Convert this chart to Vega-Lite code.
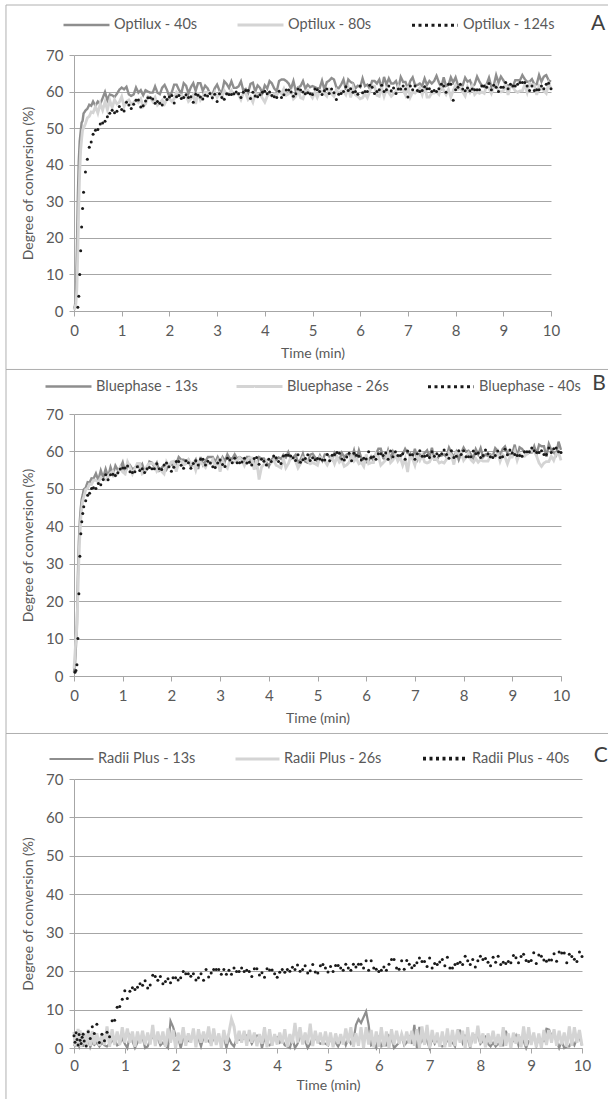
{
"$schema": "https://vega.github.io/schema/vega-lite/v6.json",
"background": "white",
"padding": {"left": 5, "top": 0, "right": 0, "bottom": 0},
"bounds": "flush",
"spacing": 103,
"resolve": {"scale": {"color": "independent", "strokeDash": "independent", "strokeWidth": "independent"}},
"config": {
  "view": {"stroke": null},
  "font": "Lato",
  "axis": {"labelFont": "Lato", "titleFont": "Lato", "labelColor": "#595959", "titleColor": "#595959", "labelFontSize": 15, "titleFontSize": 14, "titleFontWeight": 400, "domainColor": "#a6a6a6", "tickColor": "#a6a6a6", "gridColor": "#a6a6a6", "tickSize": 5},
  "legend": {"labelFont": "Lato", "labelColor": "#595959", "labelFontSize": 14.5}
},
"datasets": {
  "nA": [{"k": "a", "series": "Optilux - 40s"}, {"k": "b", "series": "Optilux - 80s"}],
  "nB": [{"k": "a", "series": "Bluephase - 13s"}, {"k": "b", "series": "Bluephase - 26s"}],
  "nC": [{"k": "a", "series": "Radii Plus - 13s"}, {"k": "b", "series": "Radii Plus - 26s"}],
  "A": [
{"t":0,"a":0.5,"b":0.3},{"t":0.02,"a":1.5,"b":0.8},{"t":0.04,"a":4,"b":2},{"t":0.06,"a":16,"b":6},{"t":0.08,"a":31,"b":16,"c":1},{"t":0.1,"a":41,"b":29,"c":4},{"t":0.12,"a":46.5,"b":38,"c":10},{"t":0.14,"a":49,"b":44,"c":16.5},{"t":0.16,"a":51.5,"b":47,"c":23},{"t":0.18,"a":52,"b":49.5,"c":28},{"t":0.2,"a":54,"b":50,"c":32.5},{"t":0.24,"a":54.8,"b":51.2,"c":38},{"t":0.28,"a":55.3,"b":52.8,"c":41.5},{"t":0.32,"a":56.4,"b":53.2,"c":44.8},{"t":0.36,"a":56.1,"b":54.4,"c":46.2},{"t":0.4,"a":57.3,"b":54.2,"c":48.3},
{"t":0.45,"a":56.1,"b":55.9,"c":49.4},{"t":0.5,"a":57.3,"b":54.1,"c":49.6},{"t":0.55,"a":56.6,"b":56.7,"c":51.1},{"t":0.6,"a":58.2,"b":54.9,"c":51.4},{"t":0.65,"a":59.9,"b":57.2,"c":51.9},{"t":0.7,"a":57.6,"b":55.0,"c":53.1},{"t":0.75,"a":59.2,"b":57.6,"c":54.1},{"t":0.8,"a":59.0,"b":55.6,"c":54.9},{"t":0.85,"a":58.5,"b":57.8,"c":54.2},{"t":0.9,"a":59.4,"b":56.6,"c":54.6},{"t":0.95,"a":60.5,"b":57.1,"c":55.9},{"t":1.0,"a":61.1,"b":58.6,"c":55.1},
{"t":1.05,"a":60.6,"b":55.9,"c":54.7},{"t":1.1,"a":61.3,"b":57.3,"c":57.1},{"t":1.15,"a":59.2,"b":57.7,"c":56.3},{"t":1.2,"a":58.8,"b":56.6,"c":55.4},{"t":1.25,"a":59.2,"b":57.0,"c":56.5},{"t":1.3,"a":61.1,"b":57.7,"c":57.6},{"t":1.35,"a":59.7,"b":57.0,"c":57.7},{"t":1.4,"a":60.4,"b":58.0,"c":55.8},{"t":1.45,"a":59.0,"b":55.9,"c":56.1},{"t":1.5,"a":60.4,"b":56.6,"c":57.4},
{"t":1.55,"a":60.0,"b":58.7,"c":58.3},{"t":1.6,"a":59.7,"b":58.4,"c":58.3},{"t":1.65,"a":59.7,"b":57.3,"c":58.0},{"t":1.7,"a":61.4,"b":58.4,"c":56.8},{"t":1.75,"a":59.7,"b":56.3,"c":57.3},{"t":1.8,"a":59.3,"b":57.0,"c":56.8},{"t":1.85,"a":61.1,"b":57.7,"c":56.3},{"t":1.9,"a":61.8,"b":56.6,"c":58.5},{"t":1.95,"a":60.4,"b":58.0,"c":57.8},{"t":2.0,"a":58.6,"b":58.0,"c":58.5},
{"t":2.05,"a":59.8,"b":57.3,"c":58.9},{"t":2.1,"a":61.9,"b":58.0,"c":56.9},{"t":2.15,"a":61.9,"b":59.8,"c":58.6},{"t":2.2,"a":60.5,"b":59.1,"c":58.9},{"t":2.25,"a":59.5,"b":59.1,"c":58.1},{"t":2.3,"a":62.3,"b":58.4,"c":58.4},{"t":2.35,"a":61.6,"b":59.1,"c":59.1},{"t":2.4,"a":59.5,"b":57.3,"c":58.4},{"t":2.45,"a":61.2,"b":58.0,"c":58.6},{"t":2.5,"a":62.3,"b":59.1,"c":57.1},
{"t":2.55,"a":60.2,"b":56.6,"c":59.3},{"t":2.6,"a":62.3,"b":59.8,"c":59.0},{"t":2.65,"a":62.3,"b":57.7,"c":58.5},{"t":2.7,"a":60.2,"b":58.7,"c":58.0},{"t":2.75,"a":61.6,"b":59.8,"c":59.0},{"t":2.8,"a":60.9,"b":59.8,"c":58.8},{"t":2.85,"a":59.5,"b":59.8,"c":59.5},{"t":2.9,"a":59.1,"b":58.4,"c":58.3},{"t":2.95,"a":60.9,"b":59.8,"c":59.3},{"t":3.0,"a":61.9,"b":58.4,"c":57.3},
{"t":3.05,"a":60.3,"b":59.6,"c":59.4},{"t":3.1,"a":59.6,"b":58.5,"c":58.4},{"t":3.15,"a":62.8,"b":60.3,"c":57.9},{"t":3.2,"a":62.1,"b":59.2,"c":59.4},{"t":3.25,"a":61.0,"b":59.2,"c":59.2},{"t":3.3,"a":62.8,"b":60.3,"c":59.2},{"t":3.35,"a":61.0,"b":59.2,"c":59.4},{"t":3.4,"a":61.0,"b":59.6,"c":59.9},{"t":3.45,"a":61.4,"b":59.2,"c":59.4},{"t":3.5,"a":62.8,"b":57.8,"c":58.4},
{"t":3.55,"a":60.3,"b":59.6,"c":59.8},{"t":3.6,"a":60.7,"b":59.6,"c":60.3},{"t":3.65,"a":59.6,"b":57.8,"c":60.3},{"t":3.7,"a":62.1,"b":58.5,"c":58.1},{"t":3.75,"a":62.4,"b":57.1,"c":59.8},{"t":3.8,"a":60.0,"b":59.6,"c":58.8},{"t":3.85,"a":61.7,"b":59.2,"c":58.6},{"t":3.9,"a":61.0,"b":59.2,"c":59.1},{"t":3.95,"a":59.6,"b":58.2,"c":59.8},{"t":4.0,"a":61.7,"b":57.1,"c":60.1},
{"t":4.05,"a":60.8,"b":58.7,"c":59.4},{"t":4.1,"a":62.9,"b":59.4,"c":59.9},{"t":4.15,"a":62.2,"b":58.7,"c":58.9},{"t":4.2,"a":60.8,"b":59.4,"c":58.6},{"t":4.25,"a":60.1,"b":59.0,"c":58.4},{"t":4.3,"a":62.9,"b":60.1,"c":60.1},{"t":4.35,"a":63.3,"b":59.4,"c":58.4},{"t":4.4,"a":63.3,"b":60.8,"c":59.1},{"t":4.45,"a":62.9,"b":59.0,"c":60.4},{"t":4.5,"a":62.2,"b":59.4,"c":60.4},
{"t":4.55,"a":60.8,"b":60.1,"c":59.9},{"t":4.6,"a":62.9,"b":58.0,"c":58.7},{"t":4.65,"a":60.1,"b":58.7,"c":59.4},{"t":4.7,"a":61.2,"b":60.4,"c":60.7},{"t":4.75,"a":61.5,"b":58.3,"c":60.4},{"t":4.8,"a":62.9,"b":58.0,"c":59.9},{"t":4.85,"a":60.8,"b":60.1,"c":59.4},{"t":4.9,"a":61.9,"b":60.4,"c":59.7},{"t":4.95,"a":61.2,"b":59.4,"c":59.4},{"t":5.0,"a":61.5,"b":58.3,"c":59.2},
{"t":5.05,"a":61.2,"b":59.8,"c":60.7},{"t":5.1,"a":60.9,"b":58.4,"c":60.5},{"t":5.15,"a":60.9,"b":60.1,"c":60.0},{"t":5.2,"a":63.0,"b":60.1,"c":59.2},{"t":5.25,"a":60.5,"b":59.4,"c":60.2},{"t":5.3,"a":62.6,"b":58.7,"c":60.7},{"t":5.35,"a":63.0,"b":60.5,"c":59.5},{"t":5.4,"a":63.7,"b":59.4,"c":60.7},{"t":5.45,"a":63.3,"b":58.7,"c":59.7},{"t":5.5,"a":61.2,"b":60.5,"c":57.8},
{"t":5.55,"a":60.9,"b":59.4,"c":59.3},{"t":5.6,"a":61.9,"b":60.1,"c":59.5},{"t":5.65,"a":63.3,"b":60.1,"c":60.0},{"t":5.7,"a":60.5,"b":59.1,"c":61.3},{"t":5.75,"a":63.3,"b":61.2,"c":60.3},{"t":5.8,"a":62.6,"b":58.4,"c":60.8},{"t":5.85,"a":62.3,"b":61.2,"c":59.8},{"t":5.9,"a":60.9,"b":59.1,"c":60.0},{"t":5.95,"a":61.6,"b":58.7,"c":59.3},{"t":6.0,"a":61.2,"b":58.0,"c":61.5},
{"t":6.05,"a":63.6,"b":58.3,"c":59.7},{"t":6.1,"a":61.5,"b":59.4,"c":60.0},{"t":6.15,"a":61.9,"b":58.3,"c":60.0},{"t":6.2,"a":60.8,"b":60.1,"c":61.7},{"t":6.25,"a":62.9,"b":61.5,"c":61.2},{"t":6.3,"a":62.9,"b":61.5,"c":59.5},{"t":6.35,"a":62.2,"b":59.0,"c":60.0},{"t":6.4,"a":63.3,"b":58.7,"c":60.5},{"t":6.45,"a":60.8,"b":61.1,"c":61.7},{"t":6.5,"a":64.0,"b":58.7,"c":60.0},
{"t":6.55,"a":61.9,"b":60.8,"c":60.5},{"t":6.6,"a":63.6,"b":59.7,"c":61.5},{"t":6.65,"a":62.2,"b":58.7,"c":60.2},{"t":6.7,"a":62.2,"b":59.4,"c":61.0},{"t":6.75,"a":62.9,"b":60.1,"c":59.5},{"t":6.8,"a":60.8,"b":61.5,"c":60.7},{"t":6.85,"a":64.0,"b":60.4,"c":60.7},{"t":6.9,"a":62.6,"b":60.4,"c":61.5},{"t":6.95,"a":62.6,"b":59.0,"c":60.7},{"t":7.0,"a":60.8,"b":61.5,"c":58.5},
{"t":7.05,"a":62.9,"b":58.5,"c":61.5},{"t":7.1,"a":63.9,"b":59.9,"c":60.5},{"t":7.15,"a":61.8,"b":59.6,"c":61.5},{"t":7.2,"a":61.8,"b":60.3,"c":60.3},{"t":7.25,"a":62.2,"b":61.0,"c":60.0},{"t":7.3,"a":61.5,"b":59.2,"c":60.3},{"t":7.35,"a":63.6,"b":61.7,"c":61.3},{"t":7.4,"a":61.8,"b":58.5,"c":60.8},{"t":7.45,"a":62.9,"b":58.5,"c":60.8},{"t":7.5,"a":62.2,"b":59.6,"c":60.0},
{"t":7.55,"a":62.9,"b":59.6,"c":60.3},{"t":7.6,"a":64.3,"b":59.9,"c":60.0},{"t":7.65,"a":62.5,"b":59.2,"c":60.8},{"t":7.7,"a":61.1,"b":61.7,"c":62.0},{"t":7.75,"a":63.9,"b":60.3,"c":61.5},{"t":7.8,"a":61.5,"b":59.2,"c":59.8},{"t":7.85,"a":61.8,"b":60.6,"c":62.0},{"t":7.9,"a":63.9,"b":58.5,"c":62.0},{"t":7.95,"a":62.5,"b":60.3,"c":57.6},{"t":8.0,"a":63.9,"b":61.7,"c":60.5},
{"t":8.05,"a":61.7,"b":60.6,"c":61.2},{"t":8.1,"a":61.7,"b":60.9,"c":62.0},{"t":8.15,"a":61.7,"b":59.9,"c":60.7},{"t":8.2,"a":63.8,"b":58.8,"c":60.2},{"t":8.25,"a":62.7,"b":61.3,"c":61.0},{"t":8.3,"a":63.1,"b":59.9,"c":60.2},{"t":8.35,"a":61.3,"b":61.6,"c":60.7},{"t":8.4,"a":62.0,"b":59.2,"c":60.5},{"t":8.45,"a":64.1,"b":59.9,"c":60.5},{"t":8.5,"a":62.7,"b":59.5,"c":60.5},
{"t":8.55,"a":61.7,"b":59.9,"c":61.5},{"t":8.6,"a":61.3,"b":59.5,"c":61.5},{"t":8.65,"a":62.0,"b":61.6,"c":61.2},{"t":8.7,"a":63.8,"b":60.9,"c":62.2},{"t":8.75,"a":61.3,"b":59.5,"c":60.5},{"t":8.8,"a":61.7,"b":61.3,"c":61.7},{"t":8.85,"a":64.5,"b":62.0,"c":61.2},{"t":8.9,"a":62.4,"b":60.2,"c":60.0},{"t":8.95,"a":64.1,"b":59.9,"c":61.2},{"t":9.0,"a":63.1,"b":60.2,"c":61.2},
{"t":9.05,"a":62.0,"b":62.3,"c":62.5},{"t":9.1,"a":61.7,"b":59.1,"c":60.8},{"t":9.15,"a":61.7,"b":61.6,"c":62.0},{"t":9.2,"a":61.3,"b":61.2,"c":61.5},{"t":9.25,"a":63.1,"b":60.2,"c":61.5},{"t":9.3,"a":63.1,"b":59.8,"c":62.0},{"t":9.35,"a":63.1,"b":60.2,"c":62.5},{"t":9.4,"a":64.5,"b":60.2,"c":62.5},{"t":9.45,"a":63.4,"b":61.9,"c":62.5},{"t":9.5,"a":62.7,"b":59.8,"c":61.5},
{"t":9.55,"a":62.7,"b":62.3,"c":60.3},{"t":9.6,"a":63.4,"b":61.9,"c":61.5},{"t":9.65,"a":62.0,"b":61.9,"c":60.3},{"t":9.7,"a":62.0,"b":59.1,"c":60.5},{"t":9.75,"a":64.5,"b":61.6,"c":60.5},{"t":9.8,"a":62.7,"b":60.9,"c":61.5},{"t":9.85,"a":64.1,"b":60.2,"c":60.8},{"t":9.9,"a":64.5,"b":59.5,"c":62.0},{"t":9.95,"a":63.1,"b":62.3,"c":62.3},{"t":10.0,"a":62.7,"b":60.9,"c":60.8}
  ],
  "B": [
{"t":0,"a":1,"b":2},{"t":0.02,"a":3,"b":6,"c":1},{"t":0.04,"a":8,"b":10,"c":1.5},{"t":0.06,"a":14,"b":13,"c":3},{"t":0.08,"a":27,"b":22,"c":10},{"t":0.1,"a":36,"b":31,"c":22},{"t":0.12,"a":41.5,"b":37.5,"c":32},{"t":0.14,"a":45,"b":42,"c":38},{"t":0.16,"a":47.3,"b":45,"c":41.2},{"t":0.18,"a":48.4,"b":47,"c":43.4},{"t":0.2,"a":49.8,"b":47.8,"c":45.2},{"t":0.24,"a":50.3,"b":49.8,"c":46.8},{"t":0.28,"a":51.8,"b":50.2,"c":48.3},{"t":0.32,"a":51.7,"b":51.3,"c":48.8},{"t":0.36,"a":52.8,"b":51.2,"c":50.1},{"t":0.4,"a":52.7,"b":52.3,"c":50.3},
{"t":0.45,"a":54.1,"b":52.3,"c":50.1},{"t":0.5,"a":52.3,"b":51.8,"c":51.4},{"t":0.55,"a":54.9,"b":53.0,"c":51.1},{"t":0.6,"a":53.0,"b":52.5,"c":52.5},{"t":0.65,"a":55.3,"b":52.4,"c":53.8},{"t":0.7,"a":53.2,"b":53.3,"c":52.4},{"t":0.75,"a":55.8,"b":54.2,"c":53.8},{"t":0.8,"a":53.9,"b":54.7,"c":53.9},{"t":0.85,"a":56.2,"b":53.5,"c":53.6},{"t":0.9,"a":55.0,"b":54.1,"c":54.3},{"t":0.95,"a":55.6,"b":55.7,"c":55.3},{"t":1.0,"a":57.1,"b":54.5,"c":55.6},
{"t":1.05,"a":54.5,"b":54.0,"c":55.6},{"t":1.1,"a":55.9,"b":57.2,"c":56.1},{"t":1.15,"a":56.3,"b":55.8,"c":54.6},{"t":1.2,"a":55.2,"b":54.0,"c":54.4},{"t":1.25,"a":55.6,"b":55.4,"c":54.6},{"t":1.3,"a":56.3,"b":56.8,"c":55.9},{"t":1.35,"a":55.6,"b":56.8,"c":54.9},{"t":1.4,"a":56.6,"b":54.0,"c":55.4},{"t":1.45,"a":54.5,"b":54.4,"c":54.4},{"t":1.5,"a":55.2,"b":56.1,"c":55.4},
{"t":1.55,"a":57.3,"b":56.8,"c":55.7},{"t":1.6,"a":57.0,"b":56.8,"c":55.4},{"t":1.65,"a":55.9,"b":56.5,"c":55.4},{"t":1.7,"a":57.0,"b":54.7,"c":56.7},{"t":1.75,"a":54.9,"b":55.4,"c":55.4},{"t":1.8,"a":55.6,"b":54.7,"c":55.2},{"t":1.85,"a":56.3,"b":54.0,"c":56.4},{"t":1.9,"a":55.2,"b":57.2,"c":56.9},{"t":1.95,"a":56.6,"b":56.1,"c":55.9},{"t":2.0,"a":56.6,"b":57.2,"c":54.7},
{"t":2.05,"a":56.0,"b":57.4,"c":55.8},{"t":2.1,"a":56.7,"b":54.6,"c":57.3},{"t":2.15,"a":58.5,"b":57.1,"c":57.3},{"t":2.2,"a":57.8,"b":57.4,"c":56.3},{"t":2.25,"a":57.8,"b":56.4,"c":55.5},{"t":2.3,"a":57.1,"b":56.7,"c":57.5},{"t":2.35,"a":57.8,"b":57.8,"c":57.0},{"t":2.4,"a":56.0,"b":56.7,"c":55.5},{"t":2.45,"a":56.7,"b":57.1,"c":56.8},{"t":2.5,"a":57.8,"b":55.0,"c":57.5},
{"t":2.55,"a":55.3,"b":57.4,"c":56.4},{"t":2.6,"a":58.5,"b":57.1,"c":57.9},{"t":2.65,"a":56.4,"b":56.4,"c":57.9},{"t":2.7,"a":57.4,"b":55.7,"c":56.4},{"t":2.75,"a":58.5,"b":57.1,"c":57.4},{"t":2.8,"a":58.5,"b":56.7,"c":56.9},{"t":2.85,"a":58.5,"b":57.8,"c":55.9},{"t":2.9,"a":57.1,"b":56.0,"c":55.7},{"t":2.95,"a":58.5,"b":57.4,"c":56.9},{"t":3.0,"a":57.1,"b":54.6,"c":57.7},
{"t":3.05,"a":58.5,"b":57.6,"c":56.5},{"t":3.1,"a":57.4,"b":56.2,"c":56.0},{"t":3.15,"a":59.2,"b":55.5,"c":58.2},{"t":3.2,"a":58.1,"b":57.6,"c":57.7},{"t":3.25,"a":58.1,"b":57.2,"c":57.0},{"t":3.3,"a":59.2,"b":57.2,"c":58.2},{"t":3.35,"a":58.1,"b":57.6,"c":57.0},{"t":3.4,"a":58.5,"b":58.3,"c":57.0},{"t":3.45,"a":58.1,"b":57.6,"c":57.2},{"t":3.5,"a":56.7,"b":56.2,"c":58.2},
{"t":3.55,"a":58.5,"b":57.6,"c":56.9},{"t":3.6,"a":58.5,"b":58.3,"c":57.1},{"t":3.65,"a":56.7,"b":58.3,"c":56.4},{"t":3.7,"a":57.4,"b":55.1,"c":58.1},{"t":3.75,"a":56.0,"b":57.6,"c":58.4},{"t":3.8,"a":58.5,"b":52.5,"c":56.6},{"t":3.85,"a":58.1,"b":55.8,"c":57.9},{"t":3.9,"a":58.1,"b":56.5,"c":57.4},{"t":3.95,"a":57.1,"b":57.6,"c":56.4},{"t":4.0,"a":56.0,"b":57.9,"c":57.9},
{"t":4.05,"a":57.7,"b":57.0,"c":57.3},{"t":4.1,"a":58.4,"b":57.7,"c":58.8},{"t":4.15,"a":57.7,"b":56.3,"c":58.3},{"t":4.2,"a":58.4,"b":56.0,"c":57.3},{"t":4.25,"a":58.0,"b":55.6,"c":56.8},{"t":4.3,"a":59.1,"b":58.1,"c":58.8},{"t":4.35,"a":58.4,"b":55.6,"c":59.0},{"t":4.4,"a":59.8,"b":56.7,"c":59.0},{"t":4.45,"a":58.0,"b":58.4,"c":58.8},{"t":4.5,"a":58.4,"b":58.4,"c":58.3},
{"t":4.55,"a":59.1,"b":57.4,"c":57.6},{"t":4.6,"a":57.0,"b":55.6,"c":59.1},{"t":4.65,"a":57.7,"b":56.7,"c":57.1},{"t":4.7,"a":59.4,"b":58.4,"c":57.8},{"t":4.75,"a":57.3,"b":58.1,"c":58.1},{"t":4.8,"a":57.0,"b":57.4,"c":59.1},{"t":4.85,"a":59.1,"b":56.7,"c":57.6},{"t":4.9,"a":59.4,"b":57.0,"c":58.3},{"t":4.95,"a":58.4,"b":56.7,"c":57.8},{"t":5.0,"a":57.3,"b":56.3,"c":58.1},
{"t":5.05,"a":58.9,"b":58.5,"c":58.0},{"t":5.1,"a":57.5,"b":58.1,"c":57.7},{"t":5.15,"a":59.2,"b":57.4,"c":57.7},{"t":5.2,"a":59.2,"b":56.4,"c":59.2},{"t":5.25,"a":58.5,"b":57.8,"c":57.5},{"t":5.3,"a":57.8,"b":58.5,"c":59.0},{"t":5.35,"a":59.6,"b":56.7,"c":59.2},{"t":5.4,"a":58.5,"b":58.5,"c":59.7},{"t":5.45,"a":57.8,"b":57.1,"c":59.5},{"t":5.5,"a":59.6,"b":57.8,"c":58.0},
{"t":5.55,"a":58.5,"b":56.0,"c":57.7},{"t":5.6,"a":59.2,"b":56.4,"c":58.5},{"t":5.65,"a":59.2,"b":57.1,"c":59.5},{"t":5.7,"a":58.2,"b":58.8,"c":57.5},{"t":5.75,"a":60.3,"b":57.4,"c":59.5},{"t":5.8,"a":57.5,"b":58.1,"c":59.0},{"t":5.85,"a":60.3,"b":56.7,"c":58.7},{"t":5.9,"a":58.2,"b":57.1,"c":57.7},{"t":5.95,"a":57.8,"b":56.0,"c":58.2},{"t":6.0,"a":57.1,"b":59.2,"c":58.0},
{"t":6.05,"a":57.5,"b":56.7,"c":59.9},{"t":6.1,"a":58.6,"b":57.0,"c":58.4},{"t":6.15,"a":57.5,"b":57.0,"c":58.6},{"t":6.2,"a":59.3,"b":59.5,"c":57.9},{"t":6.25,"a":60.7,"b":58.8,"c":59.4},{"t":6.3,"a":60.7,"b":56.3,"c":59.4},{"t":6.35,"a":58.2,"b":57.0,"c":58.9},{"t":6.4,"a":57.9,"b":57.7,"c":59.6},{"t":6.45,"a":60.3,"b":59.5,"c":57.9},{"t":6.5,"a":57.9,"b":57.0,"c":60.1},
{"t":6.55,"a":60.0,"b":57.7,"c":58.6},{"t":6.6,"a":58.9,"b":59.1,"c":59.9},{"t":6.65,"a":57.9,"b":57.4,"c":58.9},{"t":6.7,"a":58.6,"b":58.4,"c":58.9},{"t":6.75,"a":59.3,"b":56.3,"c":59.4},{"t":6.8,"a":60.7,"b":58.1,"c":57.9},{"t":6.85,"a":59.6,"b":54.5,"c":60.1},{"t":6.9,"a":59.6,"b":59.1,"c":59.1},{"t":6.95,"a":58.2,"b":58.1,"c":59.1},{"t":7.0,"a":60.7,"b":56.3,"c":57.9},
{"t":7.05,"a":57.8,"b":59.0,"c":59.4},{"t":7.1,"a":59.2,"b":57.6,"c":60.2},{"t":7.15,"a":58.9,"b":59.0,"c":58.7},{"t":7.2,"a":59.6,"b":57.2,"c":58.7},{"t":7.25,"a":60.3,"b":56.9,"c":58.9},{"t":7.3,"a":58.5,"b":57.2,"c":58.4},{"t":7.35,"a":61.0,"b":58.6,"c":59.9},{"t":7.4,"a":57.8,"b":57.9,"c":58.7},{"t":7.45,"a":57.8,"b":57.9,"c":59.4},{"t":7.5,"a":58.9,"b":56.9,"c":58.9},
{"t":7.55,"a":58.9,"b":57.2,"c":59.4},{"t":7.6,"a":59.2,"b":56.9,"c":60.4},{"t":7.65,"a":58.5,"b":57.9,"c":59.2},{"t":7.7,"a":61.0,"b":59.7,"c":58.2},{"t":7.75,"a":59.6,"b":59.0,"c":60.2},{"t":7.8,"a":58.5,"b":56.5,"c":58.4},{"t":7.85,"a":59.9,"b":59.7,"c":58.7},{"t":7.9,"a":57.8,"b":59.7,"c":60.2},{"t":7.95,"a":59.6,"b":59.7,"c":59.2},{"t":8.0,"a":61.0,"b":57.6,"c":60.2},
{"t":8.05,"a":59.9,"b":58.5,"c":58.6},{"t":8.1,"a":60.2,"b":59.5,"c":58.6},{"t":8.15,"a":59.2,"b":57.8,"c":58.6},{"t":8.2,"a":58.1,"b":57.1,"c":60.1},{"t":8.25,"a":60.6,"b":58.1,"c":59.4},{"t":8.3,"a":59.2,"b":57.1,"c":59.6},{"t":8.35,"a":60.9,"b":57.8,"c":58.4},{"t":8.4,"a":58.5,"b":57.4,"c":58.9},{"t":8.45,"a":59.2,"b":57.4,"c":60.4},{"t":8.5,"a":58.8,"b":57.4,"c":59.4},
{"t":8.55,"a":59.2,"b":58.8,"c":58.6},{"t":8.6,"a":58.8,"b":58.8,"c":58.4},{"t":8.65,"a":60.9,"b":58.5,"c":58.9},{"t":8.7,"a":60.2,"b":59.9,"c":60.1},{"t":8.75,"a":58.8,"b":57.4,"c":58.4},{"t":8.8,"a":60.6,"b":59.2,"c":58.6},{"t":8.85,"a":61.3,"b":58.5,"c":60.6},{"t":8.9,"a":59.5,"b":56.7,"c":59.1},{"t":8.95,"a":59.2,"b":58.5,"c":60.4},{"t":9.0,"a":59.5,"b":58.5,"c":59.6},
{"t":9.05,"a":61.8,"b":60.1,"c":59.2},{"t":9.1,"a":58.6,"b":57.6,"c":58.9},{"t":9.15,"a":61.1,"b":59.4,"c":58.9},{"t":9.2,"a":60.7,"b":58.7,"c":58.7},{"t":9.25,"a":59.7,"b":58.7,"c":59.9},{"t":9.3,"a":59.3,"b":59.4,"c":59.9},{"t":9.35,"a":59.7,"b":60.1,"c":59.9},{"t":9.4,"a":59.7,"b":60.1,"c":60.9},{"t":9.45,"a":61.4,"b":60.1,"c":60.2},{"t":9.5,"a":59.3,"b":58.7,"c":59.7},
{"t":9.55,"a":61.8,"b":56.9,"c":59.7},{"t":9.6,"a":61.4,"b":56.0,"c":60.2},{"t":9.65,"a":61.4,"b":56.9,"c":59.2},{"t":9.7,"a":58.6,"b":57.3,"c":59.2},{"t":9.75,"a":62.0,"b":57.3,"c":60.9},{"t":9.8,"a":60.4,"b":58.7,"c":59.7},{"t":9.85,"a":59.7,"b":57.6,"c":60.7},{"t":9.9,"a":59.0,"b":59.4,"c":60.9},{"t":9.95,"a":62.6,"b":59.7,"c":59.9},{"t":10.0,"a":60.4,"b":57.6,"c":59.7}
  ],
  "C": [
{"t":0,"a":0.5,"b":4.2,"c":3.2},{"t":0.02,"a":1.2,"b":0.5,"c":1.5},{"t":0.04,"a":0.3,"b":3.7,"c":4},{"t":0.06,"a":2,"b":0.3,"c":2.2},{"t":0.08,"a":1,"b":5.0,"c":0.8},{"t":0.1,"a":0.4,"b":0.8,"c":3.5},{"t":0.12,"a":1.8,"b":4.6,"c":2},{"t":0.14,"a":0.9,"b":0.2,"c":1.2},{"t":0.16,"a":2.5,"b":4.1,"c":2.8},{"t":0.18,"a":0.3,"b":1.0,"c":3.6},{"t":0.2,"a":1.4,"b":3.9,"c":1.8},{"t":0.24,"a":0.7,"b":0.4,"c":0.5},{"t":0.28,"a":2.2,"b":4.8,"c":4.2},{"t":0.32,"a":0.2,"b":0.6,"c":2.5},{"t":0.36,"a":1.6,"b":4.4,"c":5.5},{"t":0.4,"a":0.8,"b":0.9,"c":3.8},
{"t":0.45,"a":1.4,"b":3.8,"c":6.2},{"t":0.5,"a":0.4,"b":0.6,"c":1.4},{"t":0.55,"a":1.4,"b":3.8,"c":3.6},{"t":0.6,"a":0.7,"b":0.8,"c":1.9},{"t":0.65,"a":0.4,"b":5.6,"c":4.1},{"t":0.7,"a":1.1,"b":0.3,"c":2.9},{"t":0.75,"a":1.8,"b":4.9,"c":7.1},{"t":0.8,"a":2.1,"b":0.8,"c":7.2},{"t":0.85,"a":0.7,"b":4.3,"c":10.6},{"t":0.9,"a":1.1,"b":0.8,"c":10.8},{"t":0.95,"a":2.5,"b":5.4,"c":12.7},{"t":1.0,"a":1.1,"b":1.4,"c":14.9},
{"t":1.05,"a":0,"b":5.1,"c":12.9},{"t":1.1,"a":3.2,"b":1.4,"c":14.8},{"t":1.15,"a":1.8,"b":4.3,"c":15.7},{"t":1.2,"a":0,"b":0.3,"c":15.2},{"t":1.25,"a":1.4,"b":4.3,"c":15.8},{"t":1.3,"a":2.8,"b":1.2,"c":16.7},{"t":1.35,"a":2.8,"b":4.5,"c":16.3},{"t":1.4,"a":0,"b":0.9,"c":17.5},{"t":1.45,"a":0.4,"b":4.0,"c":15.6},{"t":1.5,"a":2.1,"b":0.9,"c":16.4},
{"t":1.55,"a":2.8,"b":6.0,"c":18.9},{"t":1.6,"a":2.8,"b":0.5,"c":18.6},{"t":1.65,"a":2.5,"b":4.3,"c":17.6},{"t":1.7,"a":0.7,"b":1.2,"c":18.6},{"t":1.75,"a":1.4,"b":4.3,"c":16.7},{"t":1.8,"a":0.7,"b":0.3,"c":17.3},{"t":1.85,"a":0,"b":5.1,"c":18.0},{"t":1.9,"a":7.0,"b":1.4,"c":17.0},{"t":1.95,"a":5.5,"b":4.7,"c":18.3},{"t":2.0,"a":3.2,"b":0,"c":18.3},
{"t":2.05,"a":2.8,"b":4.0,"c":17.7},{"t":2.1,"a":0,"b":1.2,"c":18.3},{"t":2.15,"a":2.5,"b":5.4,"c":19.9},{"t":2.2,"a":2.8,"b":0.6,"c":19.3},{"t":2.25,"a":1.8,"b":3.8,"c":19.3},{"t":2.3,"a":2.1,"b":1.4,"c":18.7},{"t":2.35,"a":3.2,"b":5.1,"c":19.3},{"t":2.4,"a":2.1,"b":0.2,"c":17.7},{"t":2.45,"a":2.5,"b":4.9,"c":18.3},{"t":2.5,"a":0.4,"b":1.4,"c":19.3},
{"t":2.55,"a":2.8,"b":4.3,"c":17.6},{"t":2.6,"a":2.5,"b":1.4,"c":20.4},{"t":2.65,"a":1.8,"b":5.6,"c":18.5},{"t":2.7,"a":1.1,"b":0.5,"c":19.5},{"t":2.75,"a":2.5,"b":5.1,"c":20.4},{"t":2.8,"a":2.1,"b":0.8,"c":20.4},{"t":2.85,"a":3.2,"b":3.8,"c":20.4},{"t":2.9,"a":1.4,"b":0,"c":19.2},{"t":2.95,"a":2.8,"b":4.7,"c":20.4},{"t":3.0,"a":0,"b":1.2,"c":19.2},
{"t":3.05,"a":2.5,"b":4.0,"c":20.2},{"t":3.1,"a":1.1,"b":7.5,"c":19.2},{"t":3.15,"a":0.4,"b":5.6,"c":20.8},{"t":3.2,"a":2.5,"b":1.1,"c":19.9},{"t":3.25,"a":2.1,"b":4.5,"c":19.9},{"t":3.3,"a":2.1,"b":1.4,"c":20.8},{"t":3.35,"a":2.5,"b":4.5,"c":19.9},{"t":3.4,"a":3.2,"b":0.6,"c":20.2},{"t":3.45,"a":2.5,"b":4.7,"c":19.9},{"t":3.5,"a":1.1,"b":1.4,"c":18.6},
{"t":3.55,"a":2.5,"b":4.0,"c":20.6},{"t":3.6,"a":3.2,"b":0.5,"c":20.6},{"t":3.65,"a":3.2,"b":3.6,"c":19.0},{"t":3.7,"a":0,"b":1.1,"c":19.6},{"t":3.75,"a":2.5,"b":5.4,"c":18.4},{"t":3.8,"a":1.1,"b":0.2,"c":20.6},{"t":3.85,"a":0.7,"b":4.9,"c":20.3},{"t":3.9,"a":1.4,"b":0.6,"c":20.3},{"t":3.95,"a":2.5,"b":3.6,"c":19.3},{"t":4.0,"a":2.8,"b":0.9,"c":18.4},
{"t":4.05,"a":1.4,"b":4.0,"c":19.7},{"t":4.1,"a":2.1,"b":1.2,"c":20.4},{"t":4.15,"a":0.7,"b":4.9,"c":19.7},{"t":4.2,"a":0.4,"b":0.3,"c":20.4},{"t":4.25,"a":0,"b":3.6,"c":20.0},{"t":4.3,"a":2.5,"b":1.2,"c":21.0},{"t":4.35,"a":0,"b":6.5,"c":20.4},{"t":4.4,"a":1.1,"b":1.4,"c":21.6},{"t":4.45,"a":2.8,"b":5.4,"c":20.0},{"t":4.5,"a":2.8,"b":0.9,"c":20.4},
{"t":4.55,"a":1.8,"b":4.0,"c":21.4},{"t":4.6,"a":0,"b":1.2,"c":19.5},{"t":4.65,"a":1.1,"b":6.3,"c":20.1},{"t":4.7,"a":2.8,"b":0.5,"c":21.7},{"t":4.75,"a":2.5,"b":4.5,"c":19.8},{"t":4.8,"a":1.8,"b":1.2,"c":19.5},{"t":4.85,"a":1.1,"b":4.0,"c":21.4},{"t":4.9,"a":1.4,"b":0.8,"c":21.7},{"t":4.95,"a":1.1,"b":4.3,"c":20.8},{"t":5.0,"a":0.7,"b":0.6,"c":19.8},
{"t":5.05,"a":2.5,"b":4.0,"c":21.2},{"t":5.1,"a":2.1,"b":0.2,"c":19.9},{"t":5.15,"a":1.4,"b":3.8,"c":21.5},{"t":5.2,"a":0.4,"b":1.1,"c":21.5},{"t":5.25,"a":1.8,"b":3.6,"c":20.8},{"t":5.3,"a":2.5,"b":0.9,"c":20.2},{"t":5.35,"a":0.7,"b":5.1,"c":21.8},{"t":5.4,"a":2.5,"b":1.4,"c":20.8},{"t":5.45,"a":1.1,"b":5.4,"c":20.2},{"t":5.5,"a":1.8,"b":0.3,"c":21.8},
{"t":5.55,"a":6.0,"b":3.8,"c":21.1},{"t":5.6,"a":7.5,"b":0.6,"c":21.8},{"t":5.65,"a":6.5,"b":5.4,"c":21.8},{"t":5.7,"a":8.0,"b":0,"c":20.8},{"t":5.75,"a":9.5,"b":5.4,"c":22.7},{"t":5.8,"a":6.0,"b":0.9,"c":20.2},{"t":5.85,"a":0.7,"b":4.7,"c":22.7},{"t":5.9,"a":1.1,"b":0.2,"c":20.8},{"t":5.95,"a":0,"b":4.3,"c":20.5},{"t":6.0,"a":3.2,"b":0.3,"c":19.9},
{"t":6.05,"a":0.4,"b":5.4,"c":20.2},{"t":6.1,"a":0.7,"b":0.3,"c":21.1},{"t":6.15,"a":0.7,"b":4.3,"c":20.2},{"t":6.2,"a":3.2,"b":0,"c":21.8},{"t":6.25,"a":2.5,"b":4.9,"c":23.0},{"t":6.3,"a":0,"b":0.9,"c":23.0},{"t":6.35,"a":0.7,"b":4.5,"c":20.8},{"t":6.4,"a":1.4,"b":1.1,"c":20.5},{"t":6.45,"a":3.2,"b":3.6,"c":22.7},{"t":6.5,"a":0.7,"b":1.4,"c":20.5},
{"t":6.55,"a":1.4,"b":4.3,"c":22.8},{"t":6.6,"a":2.8,"b":1.2,"c":21.8},{"t":6.65,"a":1.1,"b":4.5,"c":20.9},{"t":6.7,"a":6.0,"b":0.6,"c":21.5},{"t":6.75,"a":0,"b":4.9,"c":22.2},{"t":6.8,"a":5.5,"b":0,"c":23.4},{"t":6.85,"a":1.8,"b":5.6,"c":22.5},{"t":6.9,"a":2.8,"b":0.8,"c":22.5},{"t":6.95,"a":1.8,"b":6.0,"c":21.2},{"t":7.0,"a":0,"b":0,"c":23.4},
{"t":7.05,"a":2.5,"b":4.7,"c":20.8},{"t":7.1,"a":1.1,"b":1.2,"c":22.0},{"t":7.15,"a":2.5,"b":4.0,"c":21.7},{"t":7.2,"a":0.7,"b":0.3,"c":22.4},{"t":7.25,"a":0.4,"b":4.3,"c":23.0},{"t":7.3,"a":0.7,"b":0.2,"c":21.4},{"t":7.35,"a":2.1,"b":5.1,"c":23.6},{"t":7.4,"a":1.4,"b":0.3,"c":20.8},{"t":7.45,"a":1.4,"b":4.7,"c":20.8},{"t":7.5,"a":0.4,"b":0.5,"c":21.7},
{"t":7.55,"a":4.5,"b":4.7,"c":22.0},{"t":7.6,"a":4.5,"b":1.4,"c":22.3},{"t":7.65,"a":1.4,"b":4.5,"c":21.7},{"t":7.7,"a":3.2,"b":0,"c":23.9},{"t":7.75,"a":2.5,"b":5.4,"c":22.7},{"t":7.8,"a":0,"b":0.2,"c":21.7},{"t":7.85,"a":3.2,"b":4.0,"c":23.0},{"t":7.9,"a":3.2,"b":1.2,"c":21.1},{"t":7.95,"a":3.2,"b":5.8,"c":22.7},{"t":8.0,"a":1.1,"b":1.2,"c":23.9},
{"t":8.05,"a":1.8,"b":3.8,"c":23.0},{"t":8.1,"a":2.8,"b":0.2,"c":23.3},{"t":8.15,"a":1.1,"b":3.8,"c":22.3},{"t":8.2,"a":0.4,"b":1.1,"c":21.4},{"t":8.25,"a":1.4,"b":4.5,"c":23.6},{"t":8.3,"a":0.4,"b":0.8,"c":22.3},{"t":8.35,"a":1.1,"b":3.6,"c":23.9},{"t":8.4,"a":0.7,"b":0.3,"c":21.7},{"t":8.45,"a":0.7,"b":5.4,"c":22.3},{"t":8.5,"a":4.5,"b":0.6,"c":22.0},
{"t":8.55,"a":2.1,"b":3.8,"c":22.5},{"t":8.6,"a":2.1,"b":0,"c":22.2},{"t":8.65,"a":1.8,"b":4.0,"c":24.1},{"t":8.7,"a":3.2,"b":1.1,"c":23.5},{"t":8.75,"a":0.7,"b":3.6,"c":22.2},{"t":8.8,"a":2.5,"b":0.2,"c":23.8},{"t":8.85,"a":1.8,"b":5.6,"c":24.4},{"t":8.9,"a":0,"b":0.5,"c":22.8},{"t":8.95,"a":1.8,"b":5.4,"c":22.5},{"t":9.0,"a":1.8,"b":0.8,"c":22.8},
{"t":9.05,"a":3.2,"b":4.0,"c":24.8},{"t":9.1,"a":0.7,"b":0.2,"c":22.0},{"t":9.15,"a":2.5,"b":3.8,"c":24.2},{"t":9.2,"a":1.8,"b":0,"c":23.9},{"t":9.25,"a":1.8,"b":4.7,"c":22.9},{"t":9.3,"a":5.0,"b":0.8,"c":22.6},{"t":9.35,"a":4.8,"b":4.7,"c":22.9},{"t":9.4,"a":3.2,"b":1.4,"c":22.9},{"t":9.45,"a":3.2,"b":4.9,"c":24.5},{"t":9.5,"a":1.8,"b":0.6,"c":22.6},
{"t":9.55,"a":0,"b":4.5,"c":25.0},{"t":9.6,"a":1.8,"b":0.9,"c":24.7},{"t":9.65,"a":0,"b":4.0,"c":24.7},{"t":9.7,"a":0.4,"b":0.3,"c":22.2},{"t":9.75,"a":0.4,"b":5.6,"c":24.4},{"t":9.8,"a":1.8,"b":0.6,"c":23.8},{"t":9.85,"a":0.7,"b":5.4,"c":23.1},{"t":9.9,"a":2.5,"b":1.4,"c":22.5},{"t":9.95,"a":2.8,"b":4.7,"c":25.0},{"t":10.0,"a":0.7,"b":0.6,"c":23.8}
  ]
},
"vconcat": [
 {
  "width": 477, "height": 256,
  "data": {"name": "A"},
  "layer": [
   {
    "data": {"values": [{}]},
    "mark": {"type": "rect", "fill": null, "stroke": "#b0b0b0", "strokeWidth": 1},
    "encoding": {
     "x": {"datum": -1.426, "type": "quantitative", "scale": {"domain": [0, 10]}, "axis": {"values": [0,1,2,3,4,5,6,7,8,9,10], "title": "Time (min)", "titleFontWeight": 400, "grid": false, "labelFlush": false, "labelPadding": 7, "titlePadding": 8}},
     "x2": {"datum": 11.3},
     "y": {"datum": 83.67, "type": "quantitative", "scale": {"domain": [0, 70]}, "axis": {"values": [0,10,20,30,40,50,60,70], "title": "Degree of conversion (%)", "titleFontWeight": 400, "grid": true, "labelPadding": 6, "titlePadding": 10}},
     "y2": {"datum": -16.0}
    }
   },
   {
    "transform": [{"fold": ["a", "b"], "as": ["key", "v"]}, {"lookup": "key", "from": {"data": {"name": "nA"}, "key": "k", "fields": ["series"]}}],
    "mark": {"type": "line"},
    "encoding": {
     "x": {"field": "t", "type": "quantitative", "scale": {"domain": [0, 10]}, "axis": {"values": [0,1,2,3,4,5,6,7,8,9,10], "title": "Time (min)", "titleFontWeight": 400, "grid": false, "labelFlush": false, "labelPadding": 7, "titlePadding": 8}},
     "y": {"field": "v", "type": "quantitative", "scale": {"domain": [0, 70]}, "axis": {"values": [0,10,20,30,40,50,60,70], "title": "Degree of conversion (%)", "titleFontWeight": 400, "grid": true, "labelPadding": 6, "titlePadding": 10}},
     "color": {"field": "series", "type": "nominal", "scale": {"domain": ["Optilux - 40s", "Optilux - 80s", "Optilux - 124s"], "range": ["#8e8e8e", "#d4d4d4", "#1a1a1a"]},
       "legend": {"orient": "none", "legendX": -12, "legendY": -55, "direction": "horizontal", "title": null, "symbolType": "stroke", "symbolSize": 2116, "symbolStrokeWidth": 3.5, "columnPadding": 33, "labelOffset": 3, "padding": 0, "labelLimit": 250}},
     "strokeDash": {"field": "series", "type": "nominal", "scale": {"domain": ["Optilux - 40s", "Optilux - 80s", "Optilux - 124s"], "range": [[1, 0], [1, 0], [3, 3.5]]},
       "legend": {"orient": "none", "legendX": -12, "legendY": -55, "direction": "horizontal", "title": null, "symbolType": "stroke", "symbolSize": 2116, "symbolStrokeWidth": 3.5, "columnPadding": 33, "labelOffset": 3, "padding": 0, "labelLimit": 250}},
     "strokeWidth": {"field": "series", "type": "nominal", "scale": {"domain": ["Optilux - 40s", "Optilux - 80s", "Optilux - 124s"], "range": [2.4, 3.2, 2]}, "legend": null}
    }
   },
   {
    "mark": {"type": "point", "filled": true, "size": 9, "color": "#1a1a1a", "opacity": 1},
    "encoding": {
     "x": {"field": "t", "type": "quantitative", "scale": {"domain": [0, 10]}, "axis": {"values": [0,1,2,3,4,5,6,7,8,9,10], "title": "Time (min)", "titleFontWeight": 400, "grid": false, "labelFlush": false, "labelPadding": 7, "titlePadding": 8}},
     "y": {"field": "c", "type": "quantitative", "scale": {"domain": [0, 70]}, "axis": {"values": [0,10,20,30,40,50,60,70], "title": "Degree of conversion (%)", "titleFontWeight": 400, "grid": true, "labelPadding": 6, "titlePadding": 10}}
    }
   },
   {
    "data": {"values": [{}]},
    "mark": {"type": "text", "text": "A", "fontSize": 21, "font": "Lato", "color": "#404040", "align": "center", "baseline": "middle"},
    "encoding": {
     "x": {"datum": 10.99, "type": "quantitative", "scale": {"domain": [0, 10]}, "axis": {"values": [0,1,2,3,4,5,6,7,8,9,10], "title": "Time (min)", "titleFontWeight": 400, "grid": false, "labelFlush": false, "labelPadding": 7, "titlePadding": 8}},
     "y": {"datum": 78.6, "type": "quantitative", "scale": {"domain": [0, 70]}, "axis": {"values": [0,10,20,30,40,50,60,70], "title": "Degree of conversion (%)", "titleFontWeight": 400, "grid": true, "labelPadding": 6, "titlePadding": 10}}
    }
   }
  ]
 },
 {
  "width": 487, "height": 262,
  "data": {"name": "B"},
  "layer": [
   {
    "data": {"values": [{}]},
    "mark": {"type": "rect", "fill": null, "stroke": "#b0b0b0", "strokeWidth": 1},
    "encoding": {
     "x": {"datum": -1.396, "type": "quantitative", "scale": {"domain": [0, 10]}, "axis": {"values": [0,1,2,3,4,5,6,7,8,9,10], "title": "Time (min)", "titleFontWeight": 400, "grid": false, "labelFlush": false, "labelPadding": 7, "titlePadding": 8}},
     "x2": {"datum": 11.07},
     "y": {"datum": 81.9, "type": "quantitative", "scale": {"domain": [0, 70]}, "axis": {"values": [0,10,20,30,40,50,60,70], "title": "Degree of conversion (%)", "titleFontWeight": 400, "grid": true, "labelPadding": 6, "titlePadding": 10}},
     "y2": {"datum": -15.36}
    }
   },
   {
    "transform": [{"fold": ["a", "b"], "as": ["key", "v"]}, {"lookup": "key", "from": {"data": {"name": "nB"}, "key": "k", "fields": ["series"]}}],
    "mark": {"type": "line"},
    "encoding": {
     "x": {"field": "t", "type": "quantitative", "scale": {"domain": [0, 10]}, "axis": {"values": [0,1,2,3,4,5,6,7,8,9,10], "title": "Time (min)", "titleFontWeight": 400, "grid": false, "labelFlush": false, "labelPadding": 7, "titlePadding": 8}},
     "y": {"field": "v", "type": "quantitative", "scale": {"domain": [0, 70]}, "axis": {"values": [0,10,20,30,40,50,60,70], "title": "Degree of conversion (%)", "titleFontWeight": 400, "grid": true, "labelPadding": 6, "titlePadding": 10}},
     "color": {"field": "series", "type": "nominal", "scale": {"domain": ["Bluephase - 13s", "Bluephase - 26s", "Bluephase - 40s"], "range": ["#8e8e8e", "#d4d4d4", "#1a1a1a"]},
       "legend": {"orient": "none", "legendX": -30, "legendY": -52.5, "direction": "horizontal", "title": null, "symbolType": "stroke", "symbolSize": 2116, "symbolStrokeWidth": 3.5, "columnPadding": 32, "labelOffset": 3, "padding": 0, "labelLimit": 250}},
     "strokeDash": {"field": "series", "type": "nominal", "scale": {"domain": ["Bluephase - 13s", "Bluephase - 26s", "Bluephase - 40s"], "range": [[1, 0], [1, 0], [3, 3.5]]},
       "legend": {"orient": "none", "legendX": -30, "legendY": -52.5, "direction": "horizontal", "title": null, "symbolType": "stroke", "symbolSize": 2116, "symbolStrokeWidth": 3.5, "columnPadding": 32, "labelOffset": 3, "padding": 0, "labelLimit": 250}},
     "strokeWidth": {"field": "series", "type": "nominal", "scale": {"domain": ["Bluephase - 13s", "Bluephase - 26s", "Bluephase - 40s"], "range": [2.4, 3.2, 2]}, "legend": null}
    }
   },
   {
    "mark": {"type": "point", "filled": true, "size": 9, "color": "#1a1a1a", "opacity": 1},
    "encoding": {
     "x": {"field": "t", "type": "quantitative", "scale": {"domain": [0, 10]}, "axis": {"values": [0,1,2,3,4,5,6,7,8,9,10], "title": "Time (min)", "titleFontWeight": 400, "grid": false, "labelFlush": false, "labelPadding": 7, "titlePadding": 8}},
     "y": {"field": "c", "type": "quantitative", "scale": {"domain": [0, 70]}, "axis": {"values": [0,10,20,30,40,50,60,70], "title": "Degree of conversion (%)", "titleFontWeight": 400, "grid": true, "labelPadding": 6, "titlePadding": 10}}
    }
   },
   {
    "data": {"values": [{}]},
    "mark": {"type": "text", "text": "B", "fontSize": 21, "font": "Lato", "color": "#404040", "align": "center", "baseline": "middle"},
    "encoding": {
     "x": {"datum": 10.78, "type": "quantitative", "scale": {"domain": [0, 10]}, "axis": {"values": [0,1,2,3,4,5,6,7,8,9,10], "title": "Time (min)", "titleFontWeight": 400, "grid": false, "labelFlush": false, "labelPadding": 7, "titlePadding": 8}},
     "y": {"datum": 77.9, "type": "quantitative", "scale": {"domain": [0, 70]}, "axis": {"values": [0,10,20,30,40,50,60,70], "title": "Degree of conversion (%)", "titleFontWeight": 400, "grid": true, "labelPadding": 6, "titlePadding": 10}}
    }
   }
  ]
 },
 {
  "width": 508, "height": 269,
  "data": {"name": "C"},
  "layer": [
   {
    "data": {"values": [{}]},
    "mark": {"type": "rect", "fill": null, "stroke": "#b0b0b0", "strokeWidth": 1},
    "encoding": {
     "x": {"datum": -1.339, "type": "quantitative", "scale": {"domain": [0, 10]}, "axis": {"values": [0,1,2,3,4,5,6,7,8,9,10], "title": "Time (min)", "titleFontWeight": 400, "grid": false, "labelFlush": false, "labelPadding": 5, "titlePadding": 5}},
     "x2": {"datum": 10.62},
     "y": {"datum": 81.84, "type": "quantitative", "scale": {"domain": [0, 70]}, "axis": {"values": [0,10,20,30,40,50,60,70], "title": "Degree of conversion (%)", "titleFontWeight": 400, "grid": true, "labelPadding": 6, "titlePadding": 10}},
     "y2": {"datum": -13.5}
    }
   },
   {
    "transform": [{"fold": ["a", "b"], "as": ["key", "v"]}, {"lookup": "key", "from": {"data": {"name": "nC"}, "key": "k", "fields": ["series"]}}],
    "mark": {"type": "line"},
    "encoding": {
     "x": {"field": "t", "type": "quantitative", "scale": {"domain": [0, 10]}, "axis": {"values": [0,1,2,3,4,5,6,7,8,9,10], "title": "Time (min)", "titleFontWeight": 400, "grid": false, "labelFlush": false, "labelPadding": 5, "titlePadding": 5}},
     "y": {"field": "v", "type": "quantitative", "scale": {"domain": [0, 70]}, "axis": {"values": [0,10,20,30,40,50,60,70], "title": "Degree of conversion (%)", "titleFontWeight": 400, "grid": true, "labelPadding": 6, "titlePadding": 10}},
     "color": {"field": "series", "type": "nominal", "scale": {"domain": ["Radii Plus - 13s", "Radii Plus - 26s", "Radii Plus - 40s"], "range": ["#8e8e8e", "#d4d4d4", "#1a1a1a"]},
       "legend": {"orient": "none", "legendX": -26, "legendY": -44.5, "direction": "horizontal", "title": null, "symbolType": "stroke", "symbolSize": 1936, "symbolStrokeWidth": 3.5, "columnPadding": 33, "labelOffset": 3, "padding": 0, "labelLimit": 250}},
     "strokeDash": {"field": "series", "type": "nominal", "scale": {"domain": ["Radii Plus - 13s", "Radii Plus - 26s", "Radii Plus - 40s"], "range": [[1, 0], [1, 0], [3, 3.5]]},
       "legend": {"orient": "none", "legendX": -26, "legendY": -44.5, "direction": "horizontal", "title": null, "symbolType": "stroke", "symbolSize": 1936, "symbolStrokeWidth": 3.5, "columnPadding": 33, "labelOffset": 3, "padding": 0, "labelLimit": 250}},
     "strokeWidth": {"field": "series", "type": "nominal", "scale": {"domain": ["Radii Plus - 13s", "Radii Plus - 26s", "Radii Plus - 40s"], "range": [2.2, 3.8, 2]}, "legend": null}
    }
   },
   {
    "mark": {"type": "point", "filled": true, "size": 9, "color": "#1a1a1a", "opacity": 1},
    "encoding": {
     "x": {"field": "t", "type": "quantitative", "scale": {"domain": [0, 10]}, "axis": {"values": [0,1,2,3,4,5,6,7,8,9,10], "title": "Time (min)", "titleFontWeight": 400, "grid": false, "labelFlush": false, "labelPadding": 5, "titlePadding": 5}},
     "y": {"field": "c", "type": "quantitative", "scale": {"domain": [0, 70]}, "axis": {"values": [0,10,20,30,40,50,60,70], "title": "Degree of conversion (%)", "titleFontWeight": 400, "grid": true, "labelPadding": 6, "titlePadding": 10}}
    }
   },
   {
    "data": {"values": [{}]},
    "mark": {"type": "text", "text": "C", "fontSize": 21, "font": "Lato", "color": "#404040", "align": "center", "baseline": "middle"},
    "encoding": {
     "x": {"datum": 10.37, "type": "quantitative", "scale": {"domain": [0, 10]}, "axis": {"values": [0,1,2,3,4,5,6,7,8,9,10], "title": "Time (min)", "titleFontWeight": 400, "grid": false, "labelFlush": false, "labelPadding": 5, "titlePadding": 5}},
     "y": {"datum": 75.9, "type": "quantitative", "scale": {"domain": [0, 70]}, "axis": {"values": [0,10,20,30,40,50,60,70], "title": "Degree of conversion (%)", "titleFontWeight": 400, "grid": true, "labelPadding": 6, "titlePadding": 10}}
    }
   }
  ]
 }
]
}
